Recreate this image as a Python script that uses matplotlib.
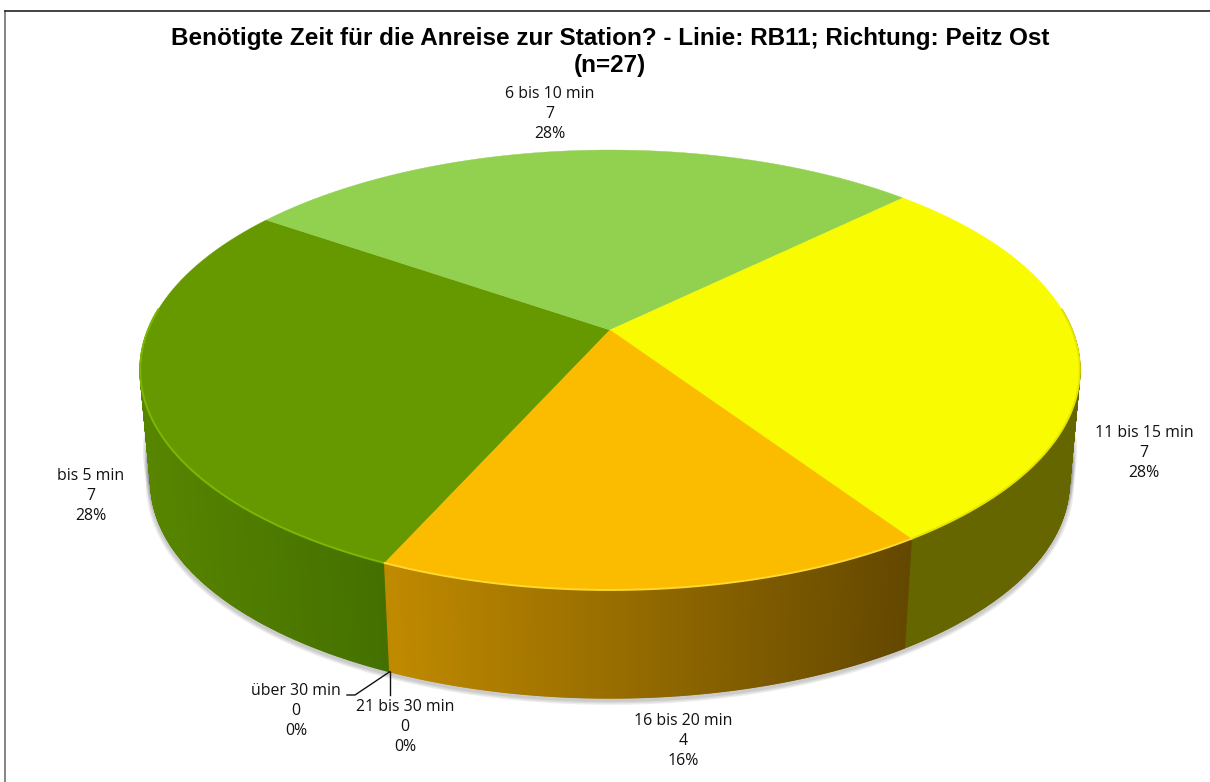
import numpy as np
import matplotlib
matplotlib.use('Agg')
import matplotlib.pyplot as plt
from matplotlib.collections import PolyCollection
from matplotlib.colors import LinearSegmentedColormap

# Data
categories = ['bis 5 min', '6 bis 10 min', '11 bis 15 min', '16 bis 20 min', '21 bis 30 min', 'über 30 min']
counts = [7, 7, 7, 4, 0, 0]
title = 'Benötigte Zeit für die Anreise zur Station? - Linie: RB11; Richtung: Peitz Ost\n(n=27)'

# Style per slice
top_colors = ['#669900', '#92D050', '#F9FB00', '#FBBC00', '#FBBC00', '#FBBC00']
rim_colors = ['#7DB800', '#A4DC60', '#E4E400', '#FFD830', '#FFD830', '#FFD830']
side_left = ['#588500', '#588500', '#666600', '#C08A00', '#C08A00', '#C08A00']
side_right = ['#447000', '#447000', '#666600', '#644800', '#644800', '#644800']
label_pos = [(91, 496), (550, 114), (1144, 453), (683, 741), (405, 727), (296, 711)]

# Pie geometry in picture pixels
start_angle = 246.0
cx, cy = 610.0, 330.0
rx, ry, persp = 462.0, 212.7, 0.1818
side_scale, side_cy = 0.977, 444.0


def project(theta, scale=1.0, center_y=cy):
    X = np.cos(theta)
    Y = np.sin(theta)
    d = 1 + persp * Y
    return cx + scale * rx * X / d, center_y - scale * ry * Y / d


fig = plt.figure(figsize=(12.1, 7.82), dpi=100)
ax = fig.add_axes([0, 0, 1, 1])
ax.set_xlim(0, 1210)
ax.set_ylim(782, 0)
ax.axis('off')

# chart frame
ax.plot([4.5, 4.5], [782, 10.5], color='#707070', lw=1.2)
ax.plot([4.5, 1210], [10.5, 10.5], color='#222222', lw=1.2)

# soft shadow under the pie
all_t = np.linspace(0, 2 * np.pi, 500)
for f in [0.7, 0.85, 1.0]:
    sx, sy = project(all_t, 1 + (side_scale - 1) * f, cy + (side_cy + 2 - cy) * f)
    for lw in [7, 5, 3]:
        ax.plot(sx, sy, color='#303030', alpha=0.09, lw=lw, zorder=1)

total = sum(counts)
angles = start_angle - np.cumsum([0] + counts) / total * 360

# side walls, built from thin strips so the outline follows the pie's silhouette
for i in range(len(counts)):
    if counts[i] == 0:
        continue
    t = np.radians(np.linspace(angles[i], angles[i + 1], 300))
    t = t[np.sin(t) < 0.1]  # the back of the wall is hidden anyway
    if len(t) < 2:
        continue
    x1, y1 = project(t)
    x2, y2 = project(t, side_scale, side_cy)
    quads = []
    mids = []
    for j in range(len(t) - 1):
        quads.append([(x1[j], y1[j]), (x1[j + 1], y1[j + 1]), (x2[j + 1], y2[j + 1]), (x2[j], y2[j])])
        mids.append((x1[j] + x1[j + 1] + x2[j] + x2[j + 1]) / 4)
    mids = np.array(mids)
    cmap = LinearSegmentedColormap.from_list('side', [side_left[i], side_right[i]])
    cols = cmap((mids - mids.min()) / (mids.max() - mids.min()))
    ax.add_collection(PolyCollection(quads, facecolors=cols, edgecolors=cols, linewidths=1.0, zorder=2))

# top slices
for i in range(len(counts)):
    if counts[i] == 0:
        continue
    t = np.radians(np.linspace(angles[i], angles[i + 1], 240))
    x1, y1 = project(t)
    ax.fill(np.r_[cx, x1], np.r_[cy, y1], color=top_colors[i], lw=0.3, zorder=3)
    front = (np.sin(t) < 0.1)
    ax.plot(x1[front], y1[front], color=rim_colors[i], lw=1.4, zorder=4)

# leader lines of the empty slices
edge_x, edge_y = project(np.radians(angles[4]), side_scale, side_cy)
ax.plot([edge_x, edge_x], [edge_y, 695], color='#111111', lw=1, zorder=5)
ax.plot([edge_x, 355, 347], [edge_y, 695, 695], color='#111111', lw=1, zorder=5)

# labels
for i in range(len(counts)):
    pct = round(100 * counts[i] / total)
    ax.text(label_pos[i][0], label_pos[i][1], f'{categories[i]}\n{counts[i]}\n{pct}%',
            ha='center', va='center', fontsize=11.4, family='Open Sans',
            linespacing=1.33, color='#111111', zorder=6)

ax.text(610, 52, title, ha='center', va='center', fontsize=17.5, fontweight='bold',
        family='Liberation Sans', linespacing=1.2, color='black', zorder=6)

fig.savefig('out.png', dpi=100)
